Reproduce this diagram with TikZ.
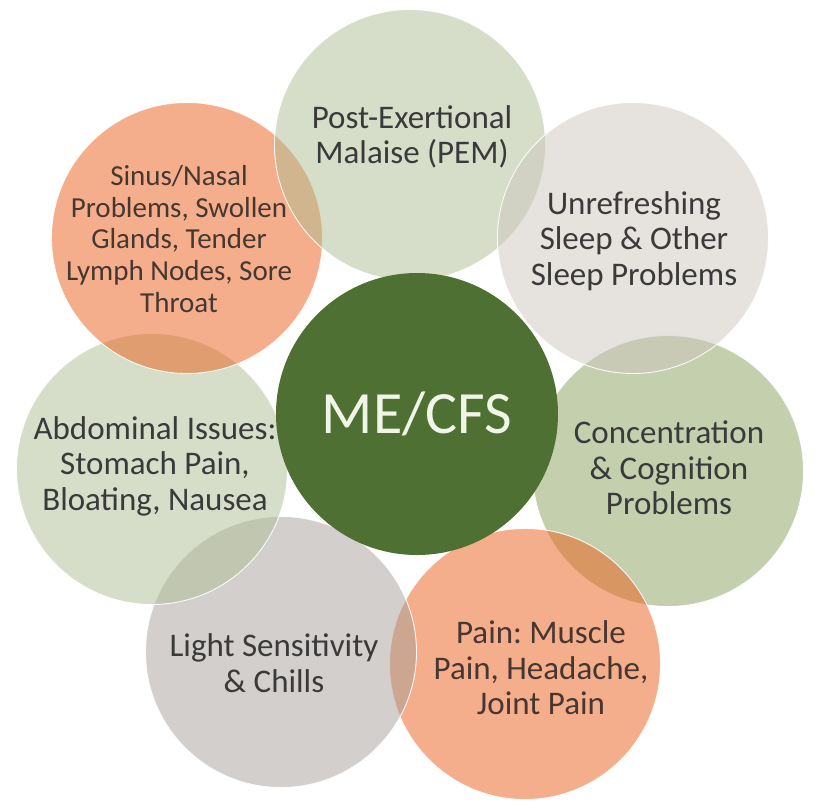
\documentclass[tikz,border=0pt]{standalone}
\usepackage{fontspec}
\setmainfont{Carlito}
\definecolor{sageb}{RGB}{173,189,147}
\definecolor{concb}{RGB}{137,159,93}
\definecolor{unrefb}{RGB}{205,199,191}
\definecolor{lightb}{RGB}{167,159,153}
\definecolor{salmonb}{RGB}{235,93,25}
\definecolor{coreg}{RGB}{78,112,50}
\definecolor{txtgray}{RGB}{58,58,58}
\definecolor{txtbrown}{RGB}{70,55,48}
\definecolor{coretxt}{RGB}{240,245,232}
\frenchspacing
\begin{document}
\begin{tikzpicture}[x=1pt,y=-1pt,
  bubble/.style={circle, minimum size=271pt, inner sep=0pt, fill opacity=0.5, draw=white, draw opacity=0.9, line width=0.9pt},
  label/.style={align=center, text=txtgray, font=\fontsize{33}{35.5}\selectfont, inner sep=0pt},
  core/.style={circle, minimum size=282pt, inner sep=0pt, fill=coreg, text=coretxt, font=\fontsize{60}{70}\selectfont}]
\useasboundingbox (0,0) rectangle (825,804);
% circles, bottom to top
\node[bubble, fill=concb]   (conc)  at (668,471) {};
\node[bubble, fill=salmonb] (pain)  at (525,664) {};
\node[bubble, fill=lightb]  (light) at (281,652) {};
\node[bubble, fill=sageb]   (abd)   at (152,469) {};
\node[bubble, fill=salmonb] (sinus) at (187,238) {};
\node[bubble, fill=sageb]   (pem)   at (410,145) {};
\node[bubble, fill=unrefb]  (unref) at (633,238) {};
% labels
\node[label] (pemt) at (412,137) {Post-Exertional\\Malaise (PEM)};
\node[label, text=txtbrown, font=\fontsize{29}{31.7}\selectfont] (sinust) at (179,239) {Sinus/Nasal\\Problems, Swollen\\Glands, Tender\\Lymph Nodes, Sore\\Throat};
\node[label] (unreft) at (634,241) {Unrefreshing\\Sleep \& Other\\Sleep Problems};
\node[label] (abdt) at (155,466) {Abdominal Issues:\\Stomach Pain,\\Bloating, Nausea};
\node[label] (conct) at (669,468) {Concentration\\\& Cognition\\Problems};
\node[label] (lightt) at (274,663) {Light Sensitivity\\\& Chills};
\node[label, text=txtbrown] (paint) at (541,668) {Pain: Muscle\\Pain, Headache,\\Joint Pain};
% centre
\node[core] (me) at (417,414) {ME/CFS};
\end{tikzpicture}
\end{document}
